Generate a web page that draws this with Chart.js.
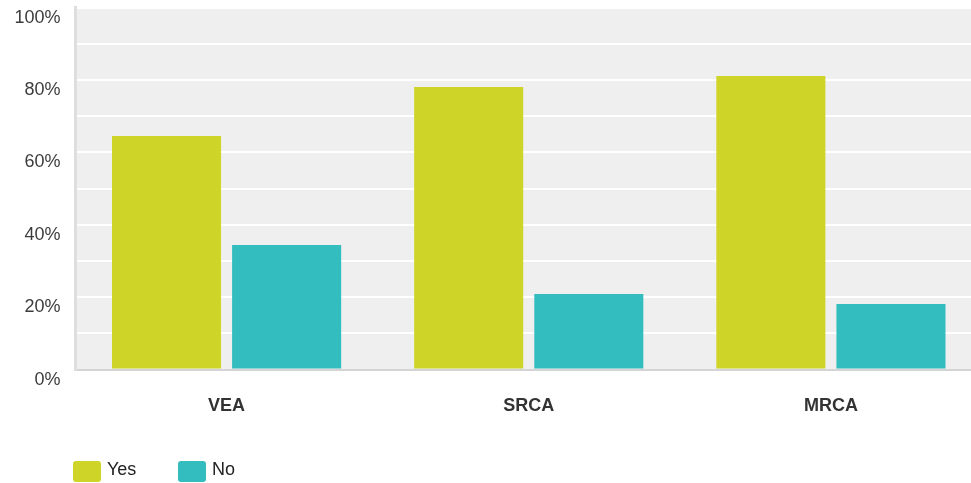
<!DOCTYPE html>
<html>
<head>
<meta charset="utf-8">
<script src="https://cdn.jsdelivr.net/npm/chart.js@4/dist/chart.umd.min.js"></script>
<style>
  html, body { margin: 0; padding: 0; background: #ffffff; overflow: hidden; }
  #wrap { position: relative; width: 982px; height: 483px; }
  #legend { position: absolute; left: 0; top: 0; width: 971px; height: 483px; pointer-events: none; }
  .lg-box { position: absolute; width: 28px; height: 21px; border-radius: 3px; }
  .lg-text { position: absolute; font-family: "Liberation Sans", Arial, sans-serif; font-size: 18px; color: #222; line-height: 21px; }
</style>
</head>
<body>
<div id="wrap">
  <canvas id="c" width="982" height="483"></canvas>
  <div id="legend"></div>
</div>
<script>
const categories = ["VEA", "SRCA", "MRCA"];
const seriesNames = ["Yes", "No"];
const yesValues = [64.5, 78.1, 81.1];
const noValues = [34.4, 20.9, 18.1];
const seriesColors = ["#cfd428", "#33bdbf"];

const FONT = '"Liberation Sans", Arial, sans-serif';

const plotBg = {
  id: 'plotBg',
  beforeDraw(chart) {
    const a = chart.chartArea, ctx = chart.ctx;
    ctx.save();
    ctx.fillStyle = '#efefef';
    ctx.fillRect(a.left, a.top, a.right - a.left, a.bottom - a.top);
    ctx.restore();
  }
};

const chart = new Chart(document.getElementById('c'), {
  type: 'bar',
  data: {
    labels: categories,
    datasets: [
      { label: seriesNames[0], data: yesValues, backgroundColor: seriesColors[0] },
      { label: seriesNames[1], data: noValues, backgroundColor: seriesColors[1] }
    ]
  },
  options: {
    responsive: false,
    animation: false,
    devicePixelRatio: 1,
    categoryPercentage: 0.795,
    barPercentage: 0.908,
    layout: { autoPadding: false, padding: { top: 7.6, right: 0, bottom: 0, left: 0 } },
    plugins: { legend: { display: false }, tooltip: { enabled: false } },
    scales: {
      x: {
        grid: { display: false, drawTicks: false },
        border: { display: true, color: '#d4d4d4', width: 2 },
        ticks: { padding: 26, color: '#333', font: { family: FONT, size: 18, weight: 'bold' } },
        afterFit(s) { s.height = 483 - 369.6; s.paddingLeft = 0; s.paddingRight = 0; }
      },
      y: {
        min: 0, max: 100,
        grid: { color: '#ffffff', lineWidth: 2, drawTicks: false },
        border: { display: true, color: '#dedede', width: 3 },
        ticks: {
          stepSize: 10, padding: 15, labelOffset: 10, color: '#3c3c3c',
          font: { family: FONT, size: 18 },
          callback: v => (v % 20 === 0 ? v + '%' : '')
        },
        afterFit(s) { s.width = 75.5; s.paddingTop = 0; s.paddingBottom = 0; }
      }
    }
  },
  plugins: [plotBg]
});

// HTML legend built from the datasets
const legend = document.getElementById('legend');
const boxX = [73, 178];
chart.data.datasets.forEach((ds, i) => {
  const b = document.createElement('div');
  b.className = 'lg-box';
  b.style.left = boxX[i] + 'px';
  b.style.top = '461px';
  b.style.background = ds.backgroundColor;
  legend.appendChild(b);
  const t = document.createElement('div');
  t.className = 'lg-text';
  t.style.left = (boxX[i] + 34) + 'px';
  t.style.top = '459px';
  t.textContent = ds.label;
  legend.appendChild(t);
});
</script>
</body>
</html>
